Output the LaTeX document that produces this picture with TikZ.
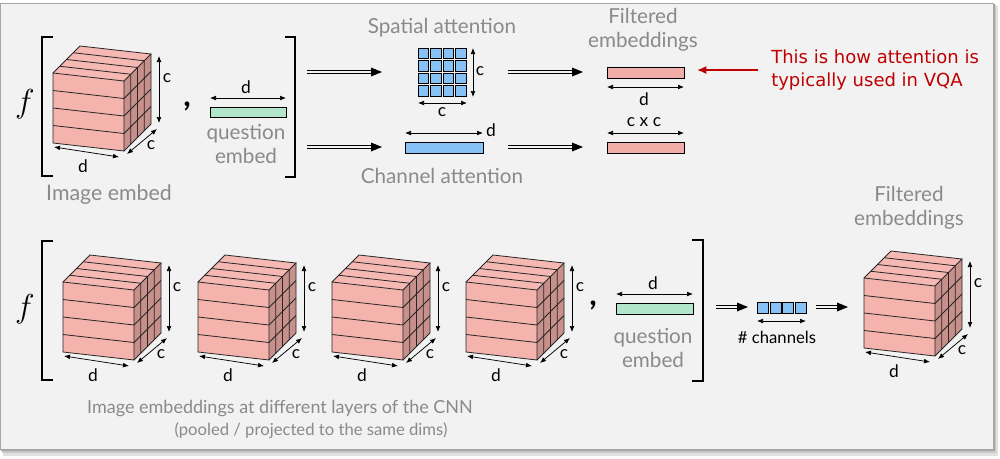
\documentclass[tikz,border=0pt]{standalone}
\usepackage{fontspec}
\setmainfont{Lato}
\newfontfamily\redfont{DejaVu Sans}
\usetikzlibrary{arrows.meta,calc}
\definecolor{panelbg}{HTML}{F2F2F2}
\definecolor{labgray}{HTML}{8A8A8A}
\definecolor{pinkF}{HTML}{F5B3AE}
\definecolor{pinkT}{HTML}{F6B8B3}
\definecolor{pinkS}{HTML}{C8908B}
\definecolor{pinkbar}{HTML}{F1ADA8}
\definecolor{mint}{HTML}{B2E6CA}
\definecolor{skyb}{HTML}{86C2F6}
\definecolor{redtxt}{HTML}{C00000}
\tikzset{
  lbl/.style={text=labgray, font=\fontsize{15.5}{18}\selectfont, align=center, inner sep=0pt},
  dimlbl/.style={text=black, font=\fontsize{13}{14}\selectfont, inner sep=0pt},
  dimarrow/.style={{Latex[length=4.5pt,width=3.6pt]}-{Latex[length=4.5pt,width=3.6pt]}, line width=0.55pt},
  bracket/.style={line width=1.5pt},
  bar/.style={draw=black, line width=0.6pt, inner sep=0pt, anchor=north west},
  cell/.style={draw=black, line width=0.6pt, fill=skyb, inner sep=0pt, minimum width=7.8pt, minimum height=7.8pt, anchor=north west},
  dblline/.style={line width=0.7pt},
  edgeline/.style={line width=0.6pt, draw=black!85},
}
\newcommand\dblarrow[2]{%
  \draw[dblline] ($(#1)+(0,-1.7)$) -- ($(#2)+(-9,-1.7)$);
  \draw[dblline] ($(#1)+(0,1.7)$) -- ($(#2)+(-9,1.7)$);
  \fill (#2) -- ($(#2)+(-11,-4.5)$) -- ($(#2)+(-11,4.5)$) -- cycle;}
% cube with front-top-left at (#1,#2)
\newcommand\mycube[2]{%
  \begin{scope}[shift={(#1,#2)}]
    \fill[pinkF] (0,0) -- (71,8) -- (71,78) -- (0,70) -- cycle;
    \fill[pinkT] (0,0) -- (71,8) -- (98,-19) -- (27,-27) -- cycle;
    \fill[pinkS] (71,8) -- (98,-19) -- (98,51) -- (71,78) -- cycle;
    \foreach \k in {1,2,3}{
      \draw[edgeline] (0,{17.5*\k}) -- (71,{8+17.5*\k}) -- (98,{-19+17.5*\k});
      \draw[edgeline] ({6.75*\k},{-6.75*\k}) -- ({71+6.75*\k},{8-6.75*\k}) -- ({71+6.75*\k},{78-6.75*\k});
    }
    \draw[edgeline] (0,0) -- (71,8) -- (71,78) -- (0,70) -- cycle;
    \draw[edgeline] (0,0) -- (27,-27) -- (98,-19) -- (71,8);
    \draw[edgeline] (98,-19) -- (98,51) -- (71,78);
    \draw[dimarrow] (106,-17) -- (106,50);
    \node[dimlbl] at (114,5) {c};
    \draw[dimarrow] (74,81) -- (104,56);
    \node[dimlbl] at (98,72) {c};
    \draw[dimarrow] (1,74) -- (66,84);
    \node[dimlbl] at (30,93) {d};
  \end{scope}}
\begin{document}
\begin{tikzpicture}[x=0.75pt,y=-0.75pt]
\useasboundingbox (0,0) rectangle (1000,458);
% panel with shadow
\fill[black!12] (3,6) rectangle (998,456);
\fill[black!22] (2,5) rectangle (996,453);
\fill[black!35] (1,4) rectangle (995,451);
\fill[panelbg] (0,3) rectangle (993,449);
\draw[black!35, line width=0.4pt] (0,3) rectangle (993,449);

% ---------- top row ----------
\node[font=\fontsize{34}{34}\selectfont] (f1) at (25,104) {$f$};
\draw[bracket] (53,37) -- (42,37) -- (42,176) -- (53,176);
\draw[bracket] (285,37) -- (295,37) -- (295,177) -- (285,177);
\mycube{53}{73}
\node[lbl, font=\fontsize{16}{18}\selectfont] (imgemb) at (109,195) {Image embed};
\node[font=\fontsize{24}{24}\selectfont\bfseries] (comma1) at (187,106) {,};
\node[bar, fill=mint, minimum width=57pt, minimum height=7.5pt] (qe1) at (210,107) {};
\draw[dimarrow] (210,98) -- (286,98);
\node[dimlbl] at (246,87) {d};
\node[lbl] (qlab1) at (246,144) {question\\embed};

% double arrows
\coordinate (a1s) at (307,72); \coordinate (a1e) at (382,72);
\coordinate (a2s) at (508,72); \coordinate (a2e) at (583,72);
\coordinate (b1s) at (307,147); \coordinate (b1e) at (382,147);
\coordinate (b2s) at (508,147); \coordinate (b2e) at (583,147);
\dblarrow{a1s}{a1e}
\dblarrow{a2s}{a2e}
\dblarrow{b1s}{b1e}
\dblarrow{b2s}{b2e}

% spatial attention
\node[lbl] (spat) at (442,28) {Spatial attention};
\foreach \i in {0,1,2,3}{
  \foreach \j in {0,1,2,3}{
    \node[cell] (g\i\j) at ({418+12.4*\i},{48+12.4*\j}) {};
  }}
\draw[dimarrow] (473,48) -- (473,97);
\node[dimlbl] at (480,71) {c};
\draw[dimarrow] (418,103) -- (467,103);
\node[dimlbl] at (442,112) {c};

% channel attention
\node[bar, fill=skyb, minimum width=58.5pt, minimum height=8.25pt] (cab) at (405,142) {};
\draw[dimarrow] (405,133) -- (483,133);
\node[dimlbl] at (491,130) {d};
\node[lbl] (chan) at (442,176) {Channel attention};

% filtered embeddings (top)
\node[lbl] (filt1) at (643,30) {Filtered\\embeddings};
\node[bar, fill=pinkbar, minimum width=57.75pt, minimum height=8.25pt] (fe1) at (607,67) {};
\draw[dimarrow] (607,87) -- (684,87);
\node[dimlbl] at (644,99) {d};
\node[bar, fill=pinkbar, minimum width=57.75pt, minimum height=8.25pt] (fe2) at (607,142) {};
\draw[dimarrow] (607,133) -- (684,133);
\node[dimlbl] at (644,122) {c x c};

% red annotation
\coordinate (rs) at (758,70); \coordinate (re) at (697,70);
\draw[redtxt, line width=1.2pt, -{Latex[length=7pt,width=6pt]}] (rs) -- (re);
\node[text=redtxt, font=\redfont\fontsize{13.5}{17.5}\selectfont, anchor=west, align=left, inner sep=0pt] (note) at (771,70) {This is how attention is\\typically used in VQA};

% ---------- bottom row ----------
\node[font=\fontsize{34}{34}\selectfont] (f2) at (25,309) {$f$};
\draw[bracket] (53,241) -- (42,241) -- (42,380) -- (53,380);
\draw[bracket] (692,240) -- (703,240) -- (703,381) -- (692,381);
\mycube{63}{282}
\mycube{198}{282}
\mycube{332}{282}
\mycube{466}{282}
\node[font=\fontsize{24}{24}\selectfont\bfseries] (comma2) at (593,305) {,};
\node[bar, fill=mint, minimum width=57.75pt, minimum height=8.25pt] (qe2) at (616,303) {};
\draw[dimarrow] (616,294) -- (693,294);
\node[dimlbl] at (653,283) {d};
\node[lbl] (qlab2) at (653,348) {question\\embed};
\node[lbl, font=\fontsize{13.5}{16}\selectfont] (imgembs) at (280,409) {Image embeddings at different layers of the CNN};
\node[lbl, font=\fontsize{12.5}{14}\selectfont] (pooled) at (311,431) {(pooled / projected to the same dims)};

\coordinate (c1s) at (716,307); \coordinate (c1e) at (748,307);
\coordinate (c2s) at (816,307); \coordinate (c2e) at (848,307);
\dblarrow{c1s}{c1e}
\dblarrow{c2s}{c2e}
\foreach \i in {0,1,2,3}{
  \node[cell, minimum width=8.25pt, minimum height=8.25pt] (ch\i) at ({757+12.7*\i},302) {};
}
\draw[dimarrow] (757,321) -- (806,321);
\node[dimlbl, font=\fontsize{12.5}{13}\selectfont] (chl) at (777,337) {\# channels};

\node[lbl] (filt2) at (909,208) {Filtered\\embeddings};
\mycube{864}{278}
\end{tikzpicture}
\end{document}
